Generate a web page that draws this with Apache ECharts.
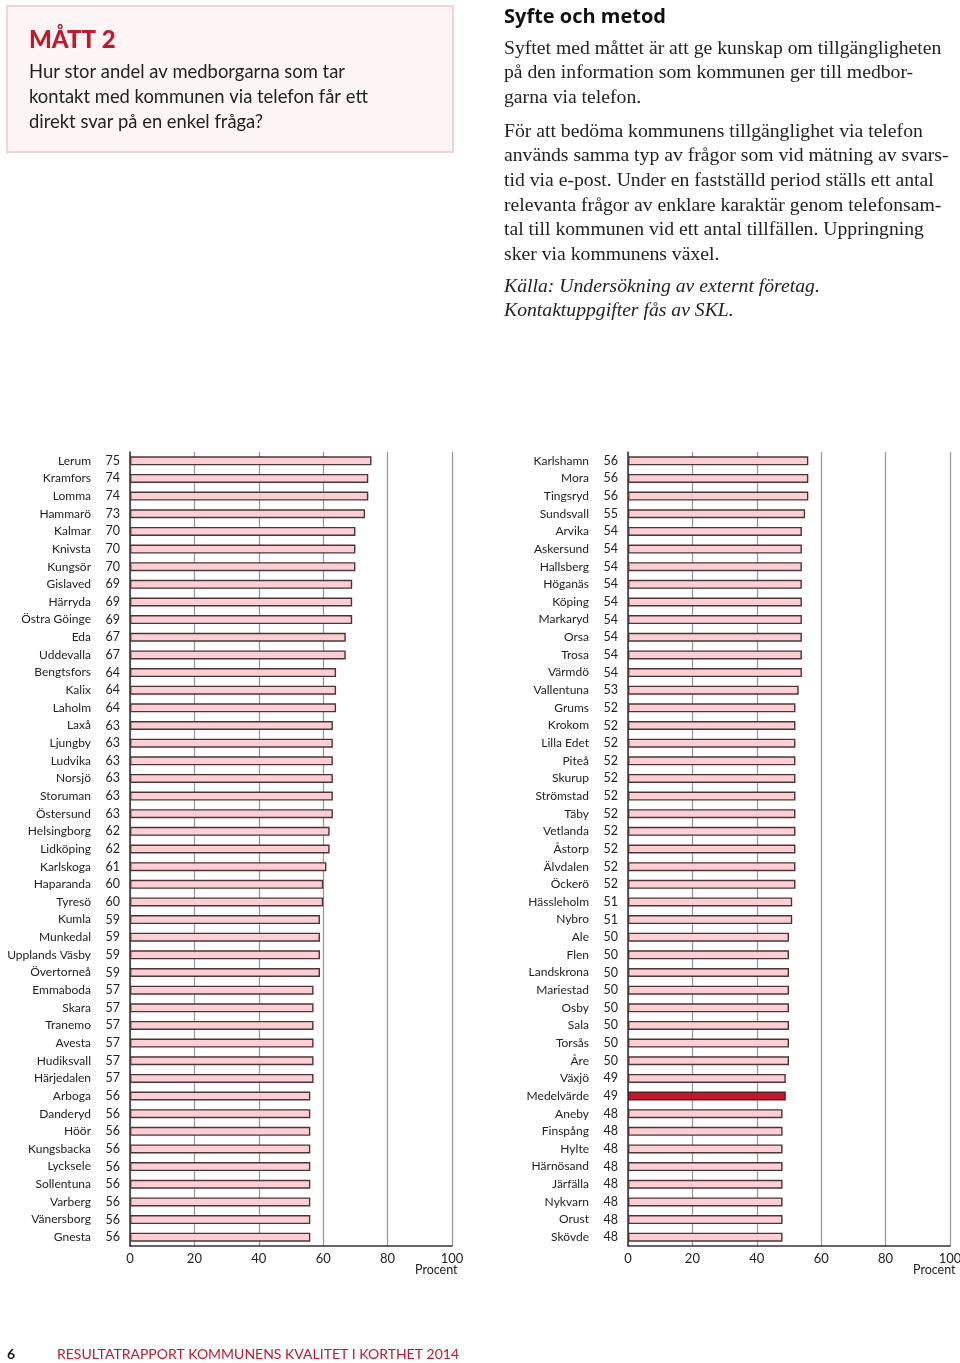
<!DOCTYPE html>
<html><head><meta charset="utf-8">
<script src="https://cdn.jsdelivr.net/npm/echarts@6/dist/echarts.min.js"></script>
<style>html,body{margin:0;padding:0;background:#fff;}#c{width:960px;height:1363px;}</style>
</head><body><div id="c"></div>
<script>
const leftNames = ["Lerum","Kramfors","Lomma","Hammarö","Kalmar","Knivsta","Kungsör","Gislaved","Härryda","Östra Göinge","Eda","Uddevalla","Bengtsfors","Kalix","Laholm","Laxå","Ljungby","Ludvika","Norsjö","Storuman","Östersund","Helsingborg","Lidköping","Karlskoga","Haparanda","Tyresö","Kumla","Munkedal","Upplands Väsby","Övertorneå","Emmaboda","Skara","Tranemo","Avesta","Hudiksvall","Härjedalen","Arboga","Danderyd","Höör","Kungsbacka","Lycksele","Sollentuna","Varberg","Vänersborg","Gnesta"];
const leftValues = [75,74,74,73,70,70,70,69,69,69,67,67,64,64,64,63,63,63,63,63,63,62,62,61,60,60,59,59,59,59,57,57,57,57,57,57,56,56,56,56,56,56,56,56,56];
const rightNames = ["Karlshamn","Mora","Tingsryd","Sundsvall","Arvika","Askersund","Hallsberg","Höganäs","Köping","Markaryd","Orsa","Trosa","Värmdö","Vallentuna","Grums","Krokom","Lilla Edet","Piteå","Skurup","Strömstad","Täby","Vetlanda","Åstorp","Älvdalen","Öckerö","Hässleholm","Nybro","Ale","Flen","Landskrona","Mariestad","Osby","Sala","Torsås","Åre","Växjö","Medelvärde","Aneby","Finspång","Hylte","Härnösand","Järfälla","Nykvarn","Orust","Skövde"];
const rightValues = [56,56,56,55,54,54,54,54,54,54,54,54,54,53,52,52,52,52,52,52,52,52,52,52,52,51,51,50,50,50,50,50,50,50,50,49,49,48,48,48,48,48,48,48,48];
const xTicks = [0,20,40,60,80,100];
const highlight = "Medelvärde";

const FONT = "Lato";
const RED = "#c0182d";
const chart = echarts.init(document.getElementById('c'), null, {renderer:'canvas'});

function grid(left){ return {left:left, width:322, top:452, height:794, containLabel:false, outerBoundsMode:'none'}; }
function xAxis(gi){
  return {gridIndex:gi, type:'value', min:0, max:100, interval:20,
    axisLine:{show:true, lineStyle:{color:'#333', width:1.5}},
    axisTick:{show:false},
    splitLine:{show:true, lineStyle:{color:'#9a9a9a', width:1.3}},
    axisLabel:{fontFamily:FONT, fontSize:13, color:'#222', margin:6,
      formatter:function(v){ return xTicks.indexOf(v)>=0 ? String(v) : ''; }}};
}
function yAxes(gi, names, values){
  return [
    {gridIndex:gi, type:'category', data:names, inverse:true,
      axisLine:{show:true, lineStyle:{color:'#333', width:1.5}}, axisTick:{show:false},
      axisLabel:{margin:10, fontFamily:FONT, fontSize:12.5, color:'#222',
        formatter:function(v, i){ return String(values[i]); }}},
    {gridIndex:gi, type:'category', data:names, inverse:true, position:'left', offset:29,
      axisLine:{show:false}, axisTick:{show:false},
      axisLabel:{margin:10, fontFamily:FONT, fontSize:12, color:'#222'}}
  ];
}
function series(gi, names, values){
  return {type:'bar', xAxisIndex:gi, yAxisIndex:gi*2, barWidth:9, silent:true,
    data: values.map(function(v,i){
      const hi = names[i]===highlight;
      return {value:v, itemStyle:{color: hi? RED : '#fccfd4', borderColor: hi ? '#5a1a22' : '#4d3436', borderWidth:1.4}};
    })};
}

const questionLines = ["Hur stor andel av medborgarna som tar","kontakt med kommunen via telefon får ett","direkt svar på en enkel fråga?"];
const bodyLines1 = ["Syftet med måttet är att ge kunskap om tillgängligheten","på den information som kommunen ger till medbor-","garna via telefon."];
const bodyLines2 = ["För att bedöma kommunens tillgänglighet via telefon","används samma typ av frågor som vid mätning av svars-","tid via e-post. Under en fastställd period ställs ett antal","relevanta frågor av enklare karaktär genom telefonsam-","tal till kommunen vid ett antal tillfällen. Uppringning","sker via kommunens växel."];
const sourceLines = ["Källa: Undersökning av externt företag.","Kontaktuppgifter fås av SKL."];

const graphics = [
  {type:'rect', shape:{x:7, y:6, width:446, height:146}, style:{fill:'#fdf4f5', stroke:'#f0d3d7', lineWidth:2}},
  {type:'text', left:29, top:28, style:{text:'MÅTT 2', font:'900 24px Lato', fill:RED}},
  {type:'text', left:29, top:60, style:{text:questionLines.join('\n'), font:'18.4px Lato', fill:'#222', lineHeight:25}},
  {type:'text', left:504, top:7, style:{text:'Syfte och metod', font:'bold 20px "Open Sans"', fill:'#111'}},
  {type:'text', left:504, top:36, style:{text:bodyLines1.join('\n'), font:'19.7px "Liberation Serif"', fill:'#222', lineHeight:24.7}},
  {type:'text', left:504, top:119, style:{text:bodyLines2.join('\n'), font:'19.7px "Liberation Serif"', fill:'#222', lineHeight:24.7}},
  {type:'text', left:504, top:274, style:{text:sourceLines.join('\n'), font:'italic 19.7px "Liberation Serif"', fill:'#222', lineHeight:24.7}},
  {type:'text', left:415, top:1263, style:{text:'Procent', font:'12.5px Lato', fill:'#222'}},
  {type:'text', left:913, top:1263, style:{text:'Procent', font:'12.5px Lato', fill:'#222'}},
  {type:'text', left:7, top:1347, style:{text:'6', font:'bold 14px Lato', fill:'#111'}},
  {type:'text', left:57, top:1347, style:{text:'RESULTATRAPPORT KOMMUNENS KVALITET I KORTHET 2014', font:'14px Lato', fill:RED}}
];

chart.setOption({
  animation:false,
  grid:[grid(130), grid(628)],
  xAxis:[xAxis(0), xAxis(1)],
  yAxis:[].concat(yAxes(0, leftNames, leftValues), yAxes(1, rightNames, rightValues)),
  series:[series(0, leftNames, leftValues), series(1, rightNames, rightValues)],
  graphic:graphics
});
</script></body></html>
